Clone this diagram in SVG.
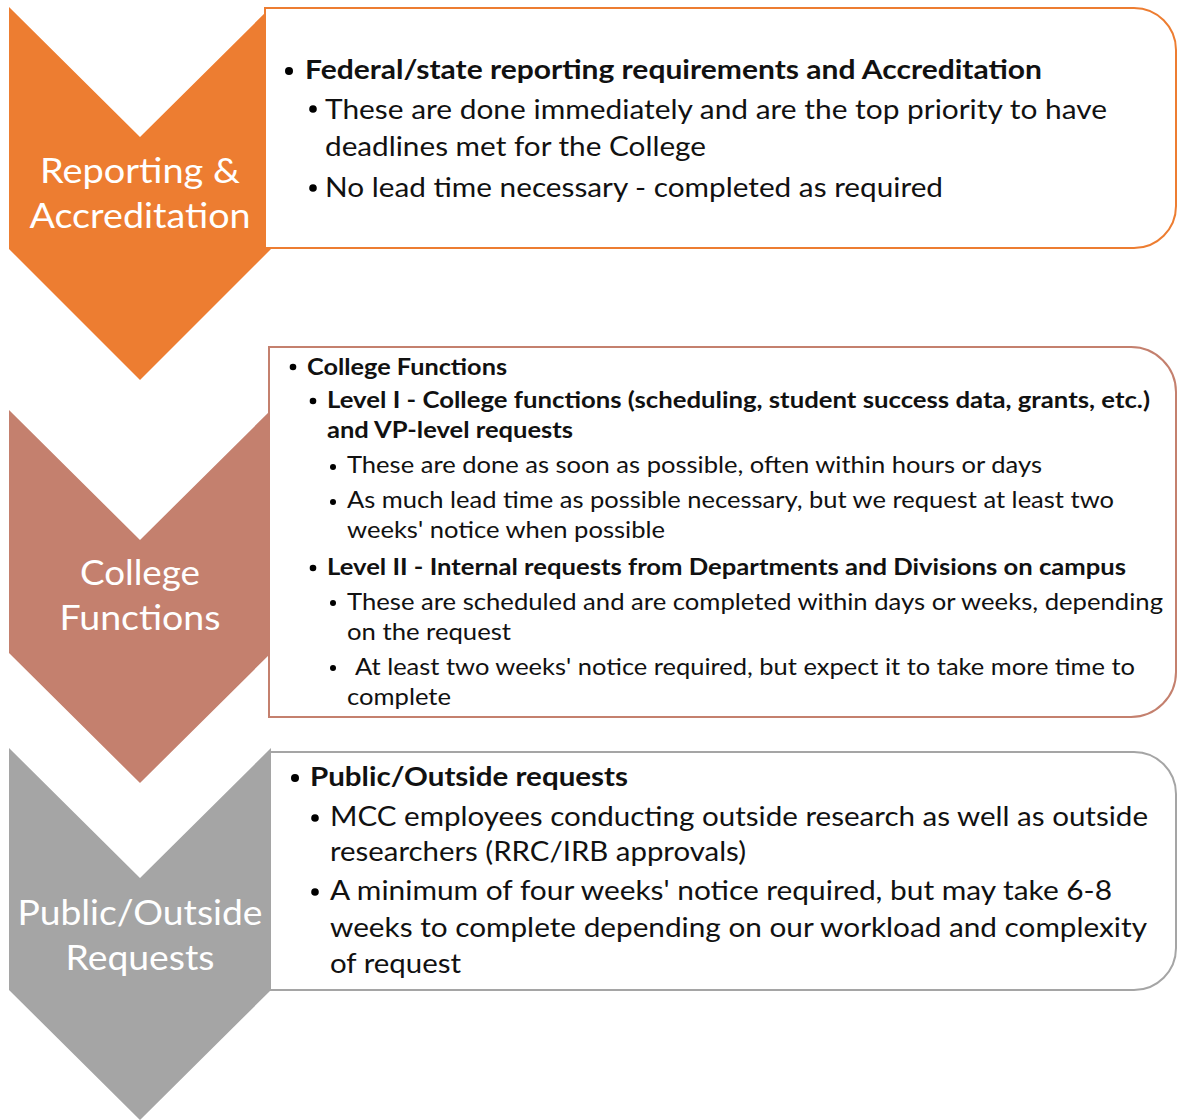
<svg xmlns="http://www.w3.org/2000/svg" width="1177" height="1120" viewBox="0 0 1177 1120">
<style>
.lbl{font-family:Lato,"Open Sans","Liberation Sans",sans-serif;fill:#ffffff;text-anchor:middle}
.t{font-family:Lato,"Open Sans","Liberation Sans",sans-serif;fill:#111111}
.b{font-weight:bold}
.big{font-size:26px}
.mid{font-size:23px}
.lab{font-size:34px}
.dot{fill:#000000}
</style>
<rect width="1177" height="1120" fill="#ffffff"/>
<g id="chevron-reporting">
<polygon points="9,7 140,137 271,7 271,249 140,380 9,249" fill="#ED7D31"/>
</g>
<g id="chevron-college">
<polygon points="9,410 140,540 271,410 271,653 140,783 9,653" fill="#C4806E"/>
</g>
<g id="chevron-public">
<polygon points="9,748 140,878 271,748 271,990 140,1120 9,990" fill="#A5A5A5"/>
</g>
<g id="box-reporting">
<path d="M265,8 H1134 A42,42 0 0 1 1176,50 V206 A42,42 0 0 1 1134,248 H265 Z" fill="#ffffff" stroke="#ED7D31" stroke-width="2"/>
<circle class="dot" cx="289" cy="71" r="4"/>
<text class="t b big" x="305" y="79" textLength="737" lengthAdjust="spacingAndGlyphs">Federal/state reporting requirements and Accreditation</text>
<circle class="dot" cx="313" cy="109" r="3.8"/>
<text class="t big" x="325" y="119" textLength="782" lengthAdjust="spacingAndGlyphs">These are done immediately and are the top priority to have</text>
<text class="t big" x="325" y="156" textLength="381" lengthAdjust="spacingAndGlyphs">deadlines met for the College</text>
<circle class="dot" cx="313" cy="188" r="3.8"/>
<text class="t big" x="325" y="197" textLength="618" lengthAdjust="spacingAndGlyphs">No lead time necessary - completed as required</text>
</g>
<g id="box-college">
<path d="M269,347 H1131 A45,45 0 0 1 1176,392 V672 A45,45 0 0 1 1131,717 H269 Z" fill="#ffffff" stroke="#C4806E" stroke-width="2"/>
<circle class="dot" cx="293" cy="367" r="3.3"/>
<text class="t b mid" x="307" y="375" textLength="200" lengthAdjust="spacingAndGlyphs">College Functions</text>
<circle class="dot" cx="313" cy="401" r="3.3"/>
<text class="t b mid" x="327" y="408" textLength="823" lengthAdjust="spacingAndGlyphs">Level I - College functions (scheduling, student success data, grants, etc.)</text>
<text class="t b mid" x="327" y="438" textLength="246" lengthAdjust="spacingAndGlyphs">and VP-level requests</text>
<circle class="dot" cx="333" cy="467" r="3"/>
<text class="t mid" x="347" y="473" textLength="695" lengthAdjust="spacingAndGlyphs">These are done as soon as possible, often within hours or days</text>
<circle class="dot" cx="333" cy="502" r="3"/>
<text class="t mid" x="347" y="508" textLength="767" lengthAdjust="spacingAndGlyphs">As much lead time as possible necessary, but we request at least two</text>
<text class="t mid" x="347" y="538" textLength="318" lengthAdjust="spacingAndGlyphs">weeks' notice when possible</text>
<circle class="dot" cx="313" cy="568" r="3.3"/>
<text class="t b mid" x="327" y="575" textLength="799" lengthAdjust="spacingAndGlyphs">Level II - Internal requests from Departments and Divisions on campus</text>
<circle class="dot" cx="333" cy="603" r="3"/>
<text class="t mid" x="347" y="610" textLength="816" lengthAdjust="spacingAndGlyphs">These are scheduled and are completed within days or weeks, depending</text>
<text class="t mid" x="347" y="640" textLength="164" lengthAdjust="spacingAndGlyphs">on the request</text>
<circle class="dot" cx="333" cy="668" r="3"/>
<text class="t mid" x="355" y="675" textLength="780" lengthAdjust="spacingAndGlyphs">At least two weeks' notice required, but expect it to take more time to</text>
<text class="t mid" x="347" y="705" textLength="104" lengthAdjust="spacingAndGlyphs">complete</text>
</g>
<g id="box-public">
<path d="M270,752 H1134 A42,42 0 0 1 1176,794 V948 A42,42 0 0 1 1134,990 H270 Z" fill="#ffffff" stroke="#A5A5A5" stroke-width="2"/>
<circle class="dot" cx="295" cy="778" r="4"/>
<text class="t b big" x="310" y="786" textLength="318" lengthAdjust="spacingAndGlyphs">Public/Outside requests</text>
<circle class="dot" cx="315" cy="818" r="3.8"/>
<text class="t big" x="330" y="826" textLength="818" lengthAdjust="spacingAndGlyphs">MCC employees conducting outside research as well as outside</text>
<text class="t big" x="330" y="861" textLength="416" lengthAdjust="spacingAndGlyphs">researchers (RRC/IRB approvals)</text>
<circle class="dot" cx="315" cy="892" r="3.8"/>
<text class="t big" x="330" y="900" textLength="782" lengthAdjust="spacingAndGlyphs">A minimum of four weeks' notice required, but may take 6-8</text>
<text class="t big" x="330" y="937" textLength="817" lengthAdjust="spacingAndGlyphs">weeks to complete depending on our workload and complexity</text>
<text class="t big" x="330" y="973" textLength="131" lengthAdjust="spacingAndGlyphs">of request</text>
</g>
<g id="labels">
<text class="lbl lab" x="140" y="183" textLength="200" lengthAdjust="spacingAndGlyphs">Reporting &amp;</text>
<text class="lbl lab" x="140" y="228" textLength="221" lengthAdjust="spacingAndGlyphs">Accreditation</text>
<text class="lbl lab" x="140" y="585" textLength="120" lengthAdjust="spacingAndGlyphs">College</text>
<text class="lbl lab" x="140" y="630" textLength="161" lengthAdjust="spacingAndGlyphs">Functions</text>
<text class="lbl lab" x="140" y="925" textLength="245" lengthAdjust="spacingAndGlyphs">Public/Outside</text>
<text class="lbl lab" x="140" y="970" textLength="149" lengthAdjust="spacingAndGlyphs">Requests</text>
</g>
<g id="connectors"></g>
</svg>
